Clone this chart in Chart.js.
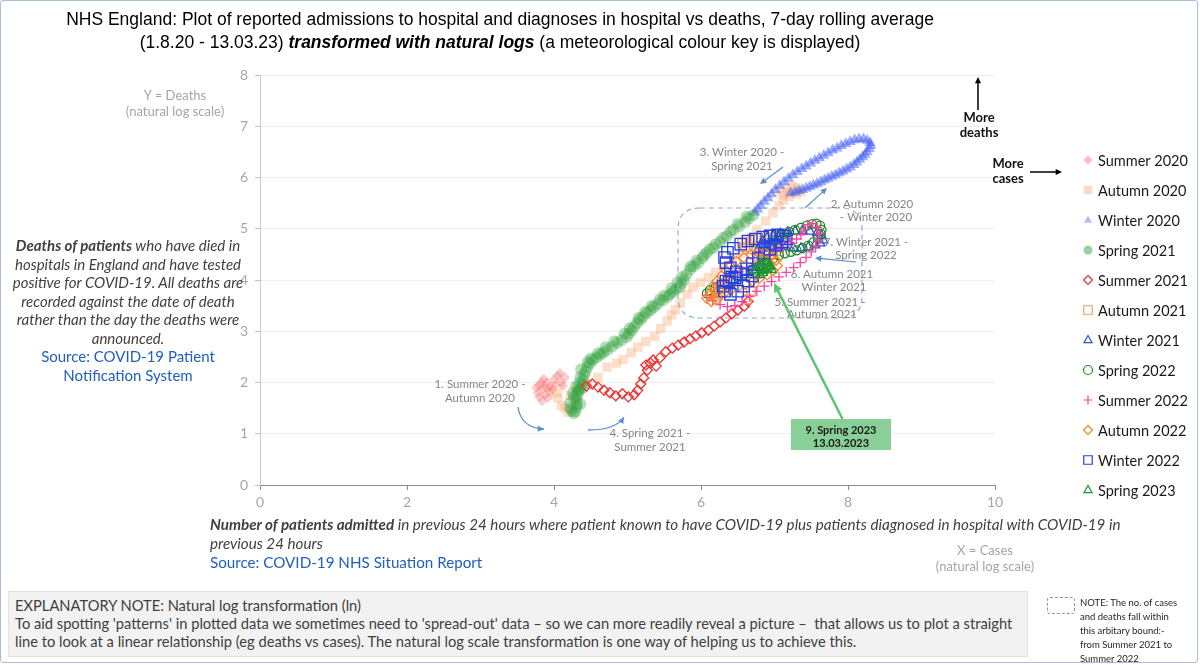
<!DOCTYPE html>
<html><head><meta charset="utf-8">
<script src="https://cdn.jsdelivr.net/npm/chart.js@4.4.1/dist/chart.umd.min.js"></script>
<style>
html,body{margin:0;padding:0;background:#fff;}
#wrap{position:relative;width:1200px;height:665px;overflow:hidden;font-family:Lato,"Open Sans",sans-serif;}
#c{position:absolute;left:0;top:0;}
.frame{position:absolute;left:0;top:0;width:1198px;height:663px;border:1px solid #a9bfdc;box-sizing:border-box;border-radius:3px;pointer-events:none;}
.title{position:absolute;left:0;width:1000px;top:8px;text-align:center;font-family:"Liberation Sans",Arial,sans-serif;font-size:17.5px;line-height:23px;color:#000;}
.ytitle,.xtitle2{position:absolute;text-align:center;color:#a6a6a6;font-size:13px;line-height:16px;}
.ytitle{left:115px;width:120px;top:87px;}
.xtitle2{left:925px;width:120px;top:542px;}
.left{position:absolute;left:0;width:256px;top:236px;text-align:center;font-style:italic;font-size:15px;line-height:18.5px;color:#404040;}
.src{color:#1f5fbf;font-style:normal;}
.xtitle{position:absolute;left:210px;top:515px;font-style:italic;font-size:15.2px;line-height:19px;color:#404040;white-space:nowrap;}
.box{position:absolute;left:8px;top:591px;width:1020px;height:66px;background:#f2f2f2;border:1px solid #e2e2e2;box-sizing:border-box;padding:4px 0 0 6px;font-size:14.7px;line-height:18px;color:#404040;white-space:nowrap;}
.nicon{position:absolute;left:1047px;top:597px;width:28px;height:17px;border:1px dashed #6f9bd1;border-radius:3px;box-sizing:border-box;}
.note{position:absolute;left:1080px;top:596px;font-size:9.5px;line-height:14px;color:#262626;white-space:nowrap;}
</style></head>
<body>
<div id="wrap">
<canvas id="c" width="1200" height="665"></canvas>
<div class="title">NHS England: Plot of reported admissions to hospital and diagnoses in hospital vs deaths, 7-day rolling average<br>(1.8.20 - 13.03.23) <b><i>transformed with natural logs</i></b> (a meteorological colour key is displayed)</div>
<div class="ytitle">Y = Deaths<br>(natural log scale)</div>
<div class="xtitle2">X = Cases<br>(natural log scale)</div>
<div class="left"><b>Deaths of patients</b> who have died in<br>hospitals in England and have tested<br>positive for COVID-19. All deaths are<br>recorded against the date of death<br>rather than the day the deaths were<br>announced.<br><span class="src">Source: COVID-19 Patient<br>Notification System</span></div>
<div class="xtitle"><b>Number of patients admitted</b> in previous 24 hours where patient known to have COVID-19 plus patients diagnosed in hospital with COVID-19 in<br>previous 24 hours<br><span class="src">Source: COVID-19 NHS Situation Report</span></div>
<div class="box">EXPLANATORY NOTE: Natural log transformation (ln)<br>To aid spotting 'patterns' in plotted data we sometimes need to 'spread-out' data &#8211; so we can more readily reveal a picture &#8211;&nbsp; that allows us to plot a straight<br>line to look at a linear relationship (eg deaths vs cases). The natural log scale transformation is one way of helping us to achieve this.</div>
<div class="nicon"></div>
<div class="note">NOTE: The no. of cases<br>and deaths fall within<br>this arbitary bound:-<br>from Summer 2021 to<br>Summer 2022</div>
<div class="frame"></div>
</div>
<script>
// ---- data: [x = ln(cases), y = ln(deaths)] ----
const seriesNames = ['Summer 2020','Autumn 2020','Winter 2020','Spring 2021','Summer 2021','Autumn 2021','Winter 2021','Spring 2022','Summer 2022','Autumn 2022','Winter 2022','Spring 2023'];
const xTicks = [0,2,4,6,8,10];
const yTicks = [0,1,2,3,4,5,6,7,8];

const summer2020 = [[3.80,1.95],[3.85,1.88],[3.78,1.80],[3.90,2.00],[3.95,1.92],[3.88,1.76],[4.00,2.06],[4.05,2.13],[3.98,1.86],[3.92,1.70],[4.10,2.00],[4.15,2.10],[3.83,2.00],[3.86,2.07],[4.02,1.95],[3.95,1.82],[3.80,1.72],[4.08,2.18],[3.90,1.90],[3.84,1.64],[3.76,1.90],[4.12,1.93]];
const autumn2020 = [[4.05,1.70],[4.10,1.55],[4.19,1.42],[4.15,1.50],[4.04,1.80],[4.22,1.75],[4.31,1.90],[4.45,1.98],[4.60,2.10],[4.72,2.30],[4.85,2.38],[4.94,2.45],[5.05,2.58],[5.14,2.69],[5.25,2.80],[5.37,2.90],[5.45,3.05],[5.54,3.20],[5.60,3.32],[5.65,3.42],[5.72,3.55],[5.81,3.72],[5.89,3.86],[5.99,3.95],[6.10,4.05],[6.20,4.15],[6.30,4.27],[6.42,4.40],[6.53,4.52],[6.65,4.75],[6.76,4.98],[6.88,5.15],[6.98,5.31],[7.06,5.45],[7.12,5.56],[7.21,5.70],[7.30,5.80],[7.24,5.83],[7.17,5.80],[7.08,5.74],[7.12,5.66],[7.20,5.63],[7.30,5.68],[7.36,5.72]];
const winter2020 = [[7.22,5.70],[7.28,5.71],[7.33,5.74],[7.38,5.76],[7.43,5.79],[7.48,5.82],[7.53,5.85],[7.58,5.88],[7.63,5.91],[7.68,5.95],[7.73,5.98],[7.78,6.02],[7.83,6.05],[7.88,6.09],[7.93,6.12],[7.98,6.16],[8.03,6.20],[8.08,6.25],[8.12,6.30],[8.16,6.35],[8.20,6.40],[8.23,6.45],[8.26,6.50],[8.29,6.56],[8.31,6.62],[8.30,6.68],[8.26,6.72],[8.21,6.75],[8.15,6.75],[8.09,6.73],[8.03,6.70],[7.97,6.66],[7.91,6.62],[7.85,6.57],[7.79,6.53],[7.73,6.48],[7.67,6.43],[7.61,6.38],[7.55,6.33],[7.49,6.28],[7.43,6.22],[7.37,6.17],[7.31,6.11],[7.25,6.05],[7.19,5.98],[7.13,5.91],[7.07,5.84],[7.01,5.76],[6.96,5.68],[6.91,5.60],[6.86,5.53],[6.81,5.45],[6.77,5.38],[6.73,5.32]];
const spring2021 = [[6.71,5.27],[6.65,5.20],[6.60,5.13],[6.52,5.05],[6.44,4.98],[6.35,4.86],[6.26,4.74],[6.17,4.63],[6.08,4.53],[6.02,4.43],[5.96,4.33],[5.90,4.27],[5.85,4.20],[5.80,4.10],[5.77,4.00],[5.73,3.93],[5.71,3.86],[5.66,3.82],[5.62,3.77],[5.58,3.72],[5.54,3.67],[5.48,3.60],[5.41,3.53],[5.36,3.47],[5.31,3.41],[5.26,3.35],[5.21,3.28],[5.17,3.22],[5.13,3.16],[5.09,3.09],[5.06,3.02],[5.02,2.95],[4.99,2.89],[4.92,2.83],[4.86,2.77],[4.79,2.70],[4.72,2.63],[4.67,2.58],[4.63,2.54],[4.58,2.49],[4.53,2.44],[4.49,2.37],[4.45,2.30],[4.43,2.22],[4.41,2.15],[4.40,2.05],[4.38,1.95],[4.35,1.87],[4.33,1.80],[4.31,1.73],[4.30,1.66],[4.31,1.58],[4.31,1.52],[4.29,1.44],[4.27,1.40],[4.22,1.50],[4.22,1.60],[4.27,1.72],[4.33,1.85],[4.40,1.90],
 [6.62,5.24],[6.50,5.10],[6.40,4.94],[6.30,4.82],[6.20,4.70],[6.12,4.60],[6.04,4.49],[5.94,4.38],[5.86,4.27],[5.74,4.06],[5.68,3.95],[5.60,3.84],[5.50,3.70],[5.44,3.62],[5.33,3.50],[5.24,3.38],[5.15,3.26],[5.03,3.06],[4.96,2.95],[4.82,2.80],[4.70,2.69],[4.60,2.57],[4.50,2.47],[4.46,2.40],[4.37,2.26],[4.36,2.10],[4.35,2.00],[4.30,1.92],[4.26,1.80],[4.36,1.58],[4.24,1.45]];
const summer2021 = [[4.44,1.93],[4.52,1.97],[4.60,1.91],[4.68,1.85],[4.76,1.80],[4.84,1.74],[4.93,1.78],[5.01,1.72],[5.09,1.76],[5.14,1.85],[5.18,1.97],[5.22,2.09],[5.27,2.24],[5.31,2.38],[5.35,2.44],[5.25,2.34],[5.39,2.32],[5.44,2.48],[5.52,2.60],[5.61,2.67],[5.69,2.73],[5.77,2.79],[5.85,2.85],[5.93,2.91],[6.01,2.97],[6.10,3.02],[6.18,3.10],[6.26,3.18],[6.34,3.26],[6.42,3.34],[6.50,3.41],[6.59,3.49],[6.64,3.58]];
const autumn2021 = [[6.62,3.62],[6.68,3.78],[6.72,3.95],[6.76,4.12],[6.80,4.28],[6.86,4.42],[6.92,4.55],[6.98,4.66],[7.05,4.74],[7.12,4.80],[7.16,4.85],[7.10,4.88],[7.02,4.86],[6.94,4.83],[6.86,4.85],[6.78,4.82],[6.70,4.80],[6.62,4.78],[6.56,4.72],[6.60,4.64],[6.68,4.60],[6.76,4.62],[6.85,4.66],[6.93,4.70],[7.00,4.64],[7.06,4.56],[6.98,4.50],[6.88,4.52],[6.80,4.55],[6.74,4.58]];
const winter2021 = [[6.78,4.60],[6.86,4.62],[6.95,4.65],[7.05,4.66],[7.15,4.64],[7.26,4.62],[7.36,4.62],[7.46,4.64],[7.55,4.68],[7.62,4.72],[7.66,4.78],[7.64,4.86],[7.58,4.92],[7.48,4.95],[7.38,4.96],[7.28,4.95],[7.18,4.93],[7.08,4.90],[6.98,4.86],[6.90,4.82],[6.84,4.76],[6.82,4.70],[6.88,4.68],[6.96,4.72],[7.02,4.76]];
const spring2022 = [[7.00,4.78],[7.06,4.84],[7.13,4.90],[7.20,4.94],[7.28,4.98],[7.36,5.02],[7.44,5.06],[7.51,5.09],[7.57,5.10],[7.62,5.06],[7.64,4.98],[7.63,4.90],[7.59,4.82],[7.53,4.74],[7.46,4.67],[7.38,4.62],[7.30,4.58],[7.22,4.55],[7.14,4.52],[7.06,4.48],[6.98,4.42],[6.90,4.36],[6.80,4.28],[6.70,4.20],[6.60,4.13],[6.50,4.06],[6.40,3.99],[6.30,3.92],[6.20,3.86],[6.12,3.80],[6.08,3.74]];
const summer2022 = [[6.08,3.70],[6.16,3.60],[6.26,3.52],[6.36,3.48],[6.46,3.50],[6.56,3.58],[6.66,3.68],[6.76,3.78],[6.86,3.88],[6.96,3.97],[7.06,4.06],[7.16,4.15],[7.26,4.24],[7.35,4.34],[7.43,4.44],[7.50,4.55],[7.56,4.66],[7.60,4.78],[7.61,4.90],[7.58,5.02],[7.52,5.10],[7.45,5.08],[7.40,4.98],[7.36,4.88],[7.30,4.80],[7.22,4.72],[7.12,4.64],[7.02,4.56],[6.92,4.48],[6.82,4.40],[6.72,4.32],[6.62,4.24],[6.52,4.16],[6.42,4.08],[6.32,4.00],[6.22,3.92]];
const autumn2022 = [[6.18,3.80],[6.12,3.72],[6.08,3.64],[6.14,3.58],[6.22,3.62],[6.20,3.74],[6.16,3.88],[6.22,3.98],[6.28,4.08],[6.34,4.18],[6.40,4.28],[6.48,4.36],[6.58,4.44],[6.68,4.50],[6.78,4.54],[6.88,4.52],[6.96,4.46],[7.02,4.38],[7.04,4.28],[6.98,4.18],[6.90,4.10],[6.80,4.04],[6.70,3.98],[6.60,3.92],[6.50,3.86],[6.40,3.80],[6.32,3.74],[6.26,3.70],[6.24,3.82],[6.30,3.92],[6.36,4.00]];
const winter2022 = [[6.38,3.96],[6.46,4.04],[6.54,4.12],[6.62,4.22],[6.70,4.32],[6.78,4.42],[6.86,4.52],[6.94,4.60],[7.02,4.68],[7.10,4.74],[7.16,4.80],[7.12,4.86],[7.04,4.88],[6.94,4.86],[6.84,4.84],[6.74,4.80],[6.64,4.76],[6.54,4.70],[6.44,4.62],[6.36,4.54],[6.32,4.44],[6.34,4.34],[6.40,4.24],[6.48,4.16],[6.42,4.06],[6.34,3.98],[6.30,3.88],[6.32,3.78],[6.40,3.72],[6.50,3.78],[6.58,3.88],[6.64,3.98],[6.70,4.08],[6.72,4.16]];
const spring2023 = [[6.74,4.20],[6.78,4.26],[6.82,4.32],[6.86,4.36],[6.90,4.32],[6.92,4.26],[6.88,4.20],[6.84,4.14],[6.80,4.10],[6.84,4.18],[6.90,4.22],[6.94,4.28],[6.96,4.20]];

const seriesData = [summer2020,autumn2020,winter2020,spring2021,summer2021,autumn2021,winter2021,spring2022,summer2022,autumn2022,winter2022,spring2023];

// ---- styles ----
const styles = [
 {ps:'rectRot', r:5.2, fill:'rgba(250,95,95,0.32)', stroke:'rgba(0,0,0,0)', bw:0, lfill:'rgba(250,120,120,0.5)'},
 {ps:'rect', r:6.6, fill:'rgba(248,175,125,0.40)', stroke:'rgba(0,0,0,0)', bw:0, lfill:'rgba(248,195,160,0.6)'},
 {ps:'triangle', r:6.5, fill:'rgba(60,90,245,0.5)', stroke:'rgba(0,0,0,0)', bw:0, lfill:'rgba(120,140,230,0.55)'},
 {ps:'circle', r:6, fill:'rgba(50,160,60,0.36)', stroke:'rgba(0,0,0,0)', bw:0, lfill:'rgba(80,170,90,0.55)'},
 {ps:'rectRot', r:5, fill:'rgba(0,0,0,0)', stroke:'#f03030', bw:1.3},
 {ps:'rect', r:6, fill:'rgba(0,0,0,0)', stroke:'#f4a060', bw:1.3},
 {ps:'triangle', r:5.5, fill:'rgba(0,0,0,0)', stroke:'#3350d8', bw:1.3},
 {ps:'circle', r:4.5, fill:'rgba(0,0,0,0)', stroke:'#1e8a1e', bw:1.3},
 {ps:'cross', r:5, fill:'rgba(0,0,0,0)', stroke:'#ff40a6', bw:1.3},
 {ps:'rectRot', r:5, fill:'rgba(0,0,0,0)', stroke:'#ff8428', bw:1.3},
 {ps:'rect', r:8, fill:'rgba(0,0,0,0)', stroke:'#2440e0', bw:1.3},
 {ps:'triangle', r:5.5, fill:'rgba(0,0,0,0)', stroke:'#1f9630', bw:1.4}
];

function marker(ctx, ps, x, y, r){
  ctx.beginPath();
  if(ps==='circle'){ctx.arc(x,y,r,0,Math.PI*2);}
  else if(ps==='rect'){const s=r*Math.SQRT1_2;ctx.rect(x-s,y-s,2*s,2*s);}
  else if(ps==='rectRot'){ctx.moveTo(x,y-r);ctx.lineTo(x+r,y);ctx.lineTo(x,y+r);ctx.lineTo(x-r,y);ctx.closePath();}
  else if(ps==='triangle'){ctx.moveTo(x,y-r);ctx.lineTo(x+r*0.9,y+r*0.6);ctx.lineTo(x-r*0.9,y+r*0.6);ctx.closePath();}
  else if(ps==='cross'){ctx.moveTo(x,y-r);ctx.lineTo(x,y+r);ctx.moveTo(x-r,y);ctx.lineTo(x+r,y);}
}

function arrowHead(ctx, x, y, ang, size, color){
  ctx.save();ctx.fillStyle=color;ctx.beginPath();
  ctx.moveTo(x,y);
  ctx.lineTo(x-size*Math.cos(ang-0.45), y-size*Math.sin(ang-0.45));
  ctx.lineTo(x-size*Math.cos(ang+0.45), y-size*Math.sin(ang+0.45));
  ctx.closePath();ctx.fill();ctx.restore();
}
function lineArrow(ctx,x1,y1,x2,y2,color,w,hs){
  ctx.save();ctx.strokeStyle=color;ctx.lineWidth=w;ctx.beginPath();
  const ang=Math.atan2(y2-y1,x2-x1);
  ctx.moveTo(x1,y1);ctx.lineTo(x2-hs*0.6*Math.cos(ang),y2-hs*0.6*Math.sin(ang));ctx.stroke();ctx.restore();
  arrowHead(ctx,x2,y2,ang,hs,color);
}
function curveArrow(ctx,x1,y1,cx,cy,x2,y2,color,w,hs){
  ctx.save();ctx.strokeStyle=color;ctx.lineWidth=w;ctx.beginPath();
  ctx.moveTo(x1,y1);ctx.quadraticCurveTo(cx,cy,x2,y2);ctx.stroke();ctx.restore();
  arrowHead(ctx,x2,y2,Math.atan2(y2-cy,x2-cx),hs,color);
}
function roundRect(ctx,x,y,w,h,r){
  ctx.beginPath();ctx.moveTo(x+r,y);ctx.lineTo(x+w-r,y);ctx.quadraticCurveTo(x+w,y,x+w,y+r);
  ctx.lineTo(x+w,y+h-r);ctx.quadraticCurveTo(x+w,y+h,x+w-r,y+h);ctx.lineTo(x+r,y+h);
  ctx.quadraticCurveTo(x,y+h,x,y+h-r);ctx.lineTo(x,y+r);ctx.quadraticCurveTo(x,y,x+r,y);ctx.closePath();
}

const annotPlugin = {
  id:'annot',
  afterDatasetsDraw(chart){
    const ctx=chart.ctx;
    ctx.save();
    ctx.setLineDash([5,4]);ctx.strokeStyle='#8eaad4';ctx.lineWidth=1.2;
    roundRect(ctx,678,208,184,110,22);ctx.stroke();ctx.setLineDash([]);
    ctx.fillStyle='#858585';ctx.font='11.5px Lato';ctx.textAlign='center';ctx.textBaseline='middle';
    const labels=[
      ['1. Summer 2020 -',480,384],['Autumn 2020',480,398],
      ['4. Spring 2021 -',650,433],['Summer 2021',650,447],
      ['3. Winter 2020 -',742,152],['Spring 2021',742,166],
      ['2. Autumn 2020',872,204],['- Winter 2020',876,217],
      ['7. Winter 2021 -',866,242],['Spring 2022',866,255],
      ['6. Autumn 2021',832,274],['Winter 2021',834,287],
      ['5. Summer 2021 -',820,302],['Autumn 2021',822,314]
    ];
    labels.forEach(l=>ctx.fillText(l[0],l[1],l[2]));
    const blue='#5b8fcb';
    curveArrow(ctx,518,407,521,428,544,429,blue,1.3,7);
    curveArrow(ctx,588,430,616,430,624,417,blue,1.3,7);
    lineArrow(ctx,783,167,760,184,blue,1.2,7);
    lineArrow(ctx,805,208,827,188,blue,1.2,7);
    lineArrow(ctx,856,262,815,258,blue,1.2,7);
    lineArrow(ctx,843,420,774,283,'#5cc36e',2.5,10);
    ctx.fillStyle='#88d097';ctx.fillRect(791,419,100,31);
    ctx.fillStyle='#1a1a1a';ctx.font='bold 11px Lato';
    ctx.fillText('9. Spring 2023',841,430);ctx.fillText('13.03.2023',841,443);
    lineArrow(ctx,978,110,978,77,'#000',1.5,7);
    lineArrow(ctx,1030,172,1062,172,'#000',1.5,7);
    ctx.fillStyle='#111';ctx.font='bold 13px Lato';
    ctx.fillText('More',979,118);ctx.fillText('deaths',979,133);
    ctx.fillText('More',1008,164);ctx.fillText('cases',1008,179);
    ctx.textAlign='left';ctx.font='14.5px Lato';
    seriesNames.forEach((n,i)=>{
      const st=styles[i];const y=160+30*i;
      marker(ctx,st.ps,1088,y,st.ps==='rect'?6:4.5);
      if(st.bw>0){ctx.strokeStyle=st.stroke;ctx.lineWidth=1.2;ctx.stroke();}
      else{ctx.fillStyle=st.lfill;ctx.fill();}
      ctx.fillStyle='#1a1a1a';ctx.fillText(n,1098,y+1);
    });
    ctx.restore();
  }
};

function build(){
  Chart.defaults.font.family='Lato';
  const datasets = seriesNames.map((name,i)=>({
    label:name,
    data:seriesData[i].map(p=>({x:p[0],y:p[1]})),
    pointStyle:styles[i].ps,
    pointRadius:styles[i].r,
    pointHoverRadius:styles[i].r,
    pointBackgroundColor:styles[i].fill,
    pointBorderColor:styles[i].stroke,
    pointBorderWidth:styles[i].bw,
    showLine:false,
    order:100-i
  }));
  new Chart(document.getElementById('c'),{
    type:'scatter',
    data:{datasets},
    options:{
      responsive:false,animation:false,devicePixelRatio:1,
      layout:{padding:{left:200,right:205,top:75,bottom:145}},
      plugins:{legend:{display:false},tooltip:{enabled:false}},
      scales:{
        x:{type:'linear',min:0,max:10,
          afterFit:s=>{s.height=35;},
          afterBuildTicks:s=>{s.ticks=xTicks.map(v=>({value:v}));},
          grid:{drawOnChartArea:false,drawTicks:true,tickLength:5,tickColor:'#8c8c8c'},
          border:{color:'#8c8c8c',width:1},
          ticks:{color:'#a6a6a6',font:{size:14},padding:4,maxRotation:0}},
        y:{type:'linear',min:0,max:8,
          afterFit:s=>{s.width=60;},
          afterBuildTicks:s=>{s.ticks=yTicks.map(v=>({value:v}));},
          grid:{color:'#efefef',lineWidth:1,drawTicks:true,tickLength:5,tickColor:'#bfbfbf'},
          border:{color:'#c8c8c8',width:1},
          ticks:{color:'#a6a6a6',font:{size:14},padding:7}}
      }
    },
    plugins:[annotPlugin]
  });
}
if(document.fonts&&document.fonts.load){
  Promise.all([document.fonts.load('14px Lato'),document.fonts.load('bold 13px Lato')]).then(build,build);
}else build();
</script>
</body></html>
